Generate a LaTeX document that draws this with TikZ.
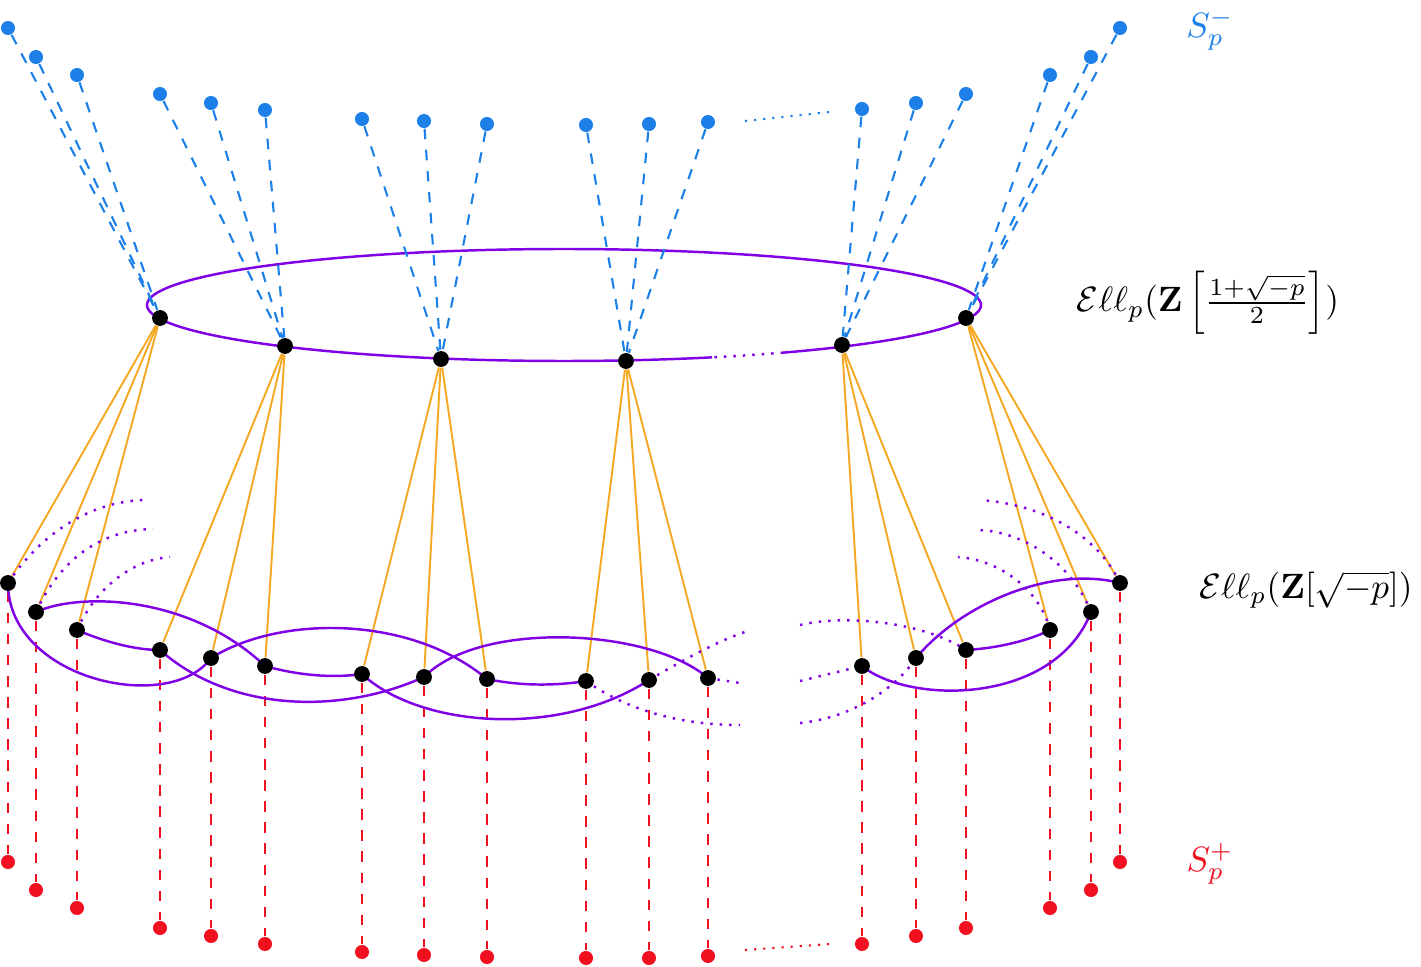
\documentclass[tikz,border=0pt]{standalone}
\usepackage{amsmath,amssymb}
\usetikzlibrary{backgrounds}
\definecolor{sminus}{RGB}{28,128,232}
\definecolor{splus}{RGB}{240,16,32}
\definecolor{volc}{RGB}{128,0,230}
\definecolor{isog}{RGB}{245,168,35}
\tikzset{% vertices and edges
  vtx/.style={circle,fill=black,inner sep=0pt,minimum size=4.5pt},
  mdot/.style={circle,fill=sminus,inner sep=0pt,minimum size=4pt},
  pdot/.style={circle,fill=splus,inner sep=0pt,minimum size=4pt},
  cyc/.style={volc,line width=0.7pt},
  down/.style={isog,line width=0.55pt},
  mline/.style={sminus,dashed,line width=0.6pt},
  pline/.style={splus,dashed,line width=0.6pt}
}

\begin{document}
\begin{tikzpicture}[x=0.01cm,y=-0.01cm]
\useasboundingbox (0,0) rectangle (1421,967);
% the crater on top
\foreach \n/\x/\y in {1/160/318,2/285/346,3/441/359,4/626/361,5/842/345,6/966/318}
  \node[vtx] (e\n) at (\x,\y) {};
\begin{scope}[on background layer]
\draw[cyc] plot[domain=69.2:418.3,samples=150,smooth] ({564+417*cos(\x)},{305+56*sin(\x)});
\draw[cyc,dotted] plot[domain=58.3:69.2,samples=10,smooth] ({564+417*cos(\x)},{305+56*sin(\x)});
\end{scope}
% the points above, below and on the floor
\foreach \n/\x/\ym/\yb/\yp/\e in {1/8/28/583/862/1,2/36/57/612/890/1,3/77/75/630/908/1,
  4/160/94/650/928/2,5/211/103/658/936/2,6/265/110/666/944/2,
  7/362/119/674/952/3,8/424/121/677/955/3,9/487/124/679/957/3,
  10/586/125/681/958/4,11/649/124/680/958/4,12/708/122/678/956/4,
  13/862/109/666/944/5,14/916/103/658/936/5,15/966/94/650/928/5,
  16/1050/75/630/908/6,17/1091/57/612/890/6,18/1120/28/583/862/6}{
  \node[mdot] (m\n) at (\x,\ym) {};
  \node[vtx] (b\n) at (\x,\yb) {};
  \node[pdot] (p\n) at (\x,\yp) {};
  \begin{scope}[on background layer]
  \draw[mline] (m\n) -- (e\e);
  \draw[down] (e\e) -- (b\n);
  \draw[pline] (b\n) -- (p\n);
  \end{scope}
}
\coordinate (m0) at (745,121); \coordinate (m00) at (830,112);
\coordinate (p0) at (745,950); \coordinate (p00) at (830,944);
\draw[sminus,dotted,line width=0.6pt] (m0) -- (m00);
\draw[splus,dotted,line width=0.6pt] (p0) -- (p00);
% ends of the floor cycles
\coordinate (ca1) at (148,500); \coordinate (cb1) at (153,529); \coordinate (cc1) at (170,557);
\coordinate (ca2) at (740,725); \coordinate (ca3) at (800,723);
\coordinate (cb2) at (745,632); \coordinate (cb3) at (800,625);
\coordinate (cc2) at (740,683); \coordinate (cc3) at (800,681);
\coordinate (ca4) at (980,500); \coordinate (cb4) at (958,557); \coordinate (cc4) at (975,530);
\begin{scope}[on background layer]
% first cycle
\draw[cyc,dotted] (b1.center) .. controls (40,535) and (90,500) .. (ca1);
\draw[cyc] (b1.center) .. controls (8,680) and (170,715) .. (b5.center)
  .. controls (280,615) and (410,615) .. (b9.center)
  .. controls (520,686) and (555,686) .. (b10.center);
\draw[cyc,dotted] (b10.center) .. controls (620,705) and (670,725) .. (ca2);
\draw[cyc,dotted] (ca3) .. controls (850,718) and (895,690) .. (b14.center);
\draw[cyc] (b14.center) .. controls (960,605) and (1050,565) .. (b18.center);
\draw[cyc,dotted] (b18.center) .. controls (1100,540) and (1050,505) .. (ca4);
% second cycle
\draw[cyc,dotted] (b2.center) .. controls (60,560) and (100,530) .. (cb1);
\draw[cyc] (b2.center) .. controls (80,592) and (190,595) .. (b6.center)
  .. controls (300,676) and (335,678) .. (b7.center)
  .. controls (420,728) and (560,738) .. (b11.center);
\draw[cyc,dotted] (b11.center) .. controls (680,662) and (715,642) .. (cb2);
\draw[cyc,dotted] (cb3) .. controls (840,615) and (920,620) .. (b15.center);
\draw[cyc] (b15.center) .. controls (1000,648) and (1030,640) .. (b16.center);
\draw[cyc,dotted] (b16.center) .. controls (1040,590) and (1000,560) .. (cb4);
% third cycle
\draw[cyc,dotted] (b3.center) .. controls (95,590) and (130,560) .. (cc1);
\draw[cyc] (b3.center) .. controls (105,642) and (135,650) .. (b4.center)
  .. controls (230,712) and (340,715) .. (b8.center)
  .. controls (480,620) and (650,628) .. (b12.center);
\draw[cyc,dotted] (b12.center) -- (cc2);
\draw[cyc,dotted] (cc3) -- (b13.center);
\draw[cyc] (b13.center) .. controls (910,705) and (1055,705) .. (b17.center);
\draw[cyc,dotted] (b17.center) .. controls (1070,560) and (1020,530) .. (cc4);
\end{scope}
% labels
\node[text=sminus] (lminus) at (1210,30) {$S_p^-$};
\node (lcrater) at (1208,303) {$\mathcal{E}\ell\ell_p(\mathbf{Z}\left[\frac{1+\sqrt{-p}}{2}\right])$};
\node (lfloor) at (1306,590) {$\mathcal{E}\ell\ell_p(\mathbf{Z}[\sqrt{-p}])$};
\node[text=splus] (lplus) at (1210,864) {$S_p^+$};
\end{tikzpicture}
\end{document}
